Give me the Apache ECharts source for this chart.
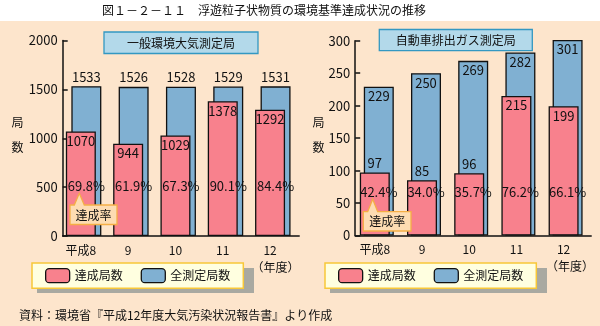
<!DOCTYPE html>
<html><head><meta charset="utf-8">
<script src="https://cdn.jsdelivr.net/npm/echarts@6/dist/echarts.min.js"></script>
<style>html,body{margin:0;padding:0;background:#FDE5CC;}#c{width:600px;height:326px;}</style>
</head><body><div id="c"></div>
<script>
const years = ['平成8', '9', '10', '11', '12'];
const generalTotal = [1533, 1526, 1528, 1529, 1531];
const generalAchieved = [1070, 944, 1029, 1378, 1292];
const generalRate = [69.8, 61.9, 67.3, 90.1, 84.4];
const roadTotal = [229, 250, 269, 282, 301];
const roadAchieved = [97, 85, 96, 215, 199];
const roadRate = [42.4, 34.0, 35.7, 76.2, 66.1];
const leftTicks = [0, 500, 1000, 1500, 2000];
const rightTicks = [0, 50, 100, 150, 200, 250, 300];

const FONT = '"Noto Sans CJK JP", "Noto Sans", sans-serif';
const PINK = '#F8818D', BLUE = '#80B0D2', INK = '#111';
const chart = echarts.init(document.getElementById('c'), null, {renderer: 'canvas'});

function grids(left, top, w, h, off) {
  return [{left: left, top: top, width: w, height: h},
          {left: left - off, top: top, width: w, height: h}];
}
function xAxes(gi) {
  return [
    {type: 'category', gridIndex: gi, data: years, boundaryGap: true,
     axisLine: {lineStyle: {color: INK, width: 1.5}},
     axisTick: {inside: true, length: 5, lineStyle: {color: INK, width: 1.5}},
     axisLabel: {show: false}},
    {type: 'category', gridIndex: gi + 1, data: years, boundaryGap: true,
     axisLine: {show: false}, axisTick: {show: false},
     axisLabel: {color: INK, fontSize: 12, fontFamily: FONT, margin: 8}}
  ];
}
function yAxes(gi, ticks) {
  const max = ticks[ticks.length - 1], step = ticks[1] - ticks[0];
  return [
    {type: 'value', gridIndex: gi, min: ticks[0], max: max, interval: step,
     axisLine: {show: true, lineStyle: {color: INK, width: 1.5}},
     axisTick: {show: true, inside: true, length: 5, lineStyle: {color: INK, width: 1.5}},
     splitLine: {show: false},
     axisLabel: {color: INK, fontSize: 13, fontFamily: FONT, margin: 5, formatter: v => String(v)}},
    {type: 'value', gridIndex: gi + 1, min: ticks[0], max: max, interval: step, show: false}
  ];
}
function seriesFor(ax, total, achieved, rate, totalPos, rateDist, pinkPos) {
  const lbl = {color: INK, fontSize: 13, fontFamily: FONT};
  return [
    {type: 'bar', name: '全測定局数', xAxisIndex: ax, yAxisIndex: ax, data: total,
     barWidth: 30, barGap: '-100%', z: 2, silent: true,
     itemStyle: {color: BLUE, borderColor: INK, borderWidth: 1.3},
     label: Object.assign({show: true, position: totalPos, distance: 3}, lbl)},
    {type: 'bar', name: 'rate', xAxisIndex: ax, yAxisIndex: ax, data: rate,
     barWidth: 30, barGap: '-100%', z: 5, silent: true,
     itemStyle: {color: 'rgba(0,0,0,0)'},
     label: Object.assign({show: true, position: 'insideBottom', distance: rateDist,
       formatter: p => rate[p.dataIndex].toFixed(1) + '%'}, lbl)},
    {type: 'bar', name: '達成局数', xAxisIndex: ax + 1, yAxisIndex: ax + 1,
     data: achieved.map((v, i) => ({value: v, label: {position: pinkPos(v, i)}})),
     barWidth: 30, z: 3, silent: true,
     itemStyle: {color: PINK, borderColor: INK, borderWidth: 1.3},
     label: Object.assign({show: true, distance: 3}, lbl)}
  ];
}
function legend(left) {
  return {left: left, top: 263, orient: 'horizontal', data: ['達成局数', '全測定局数'],
    itemWidth: 24, itemHeight: 14, itemGap: 18, padding: [5, 13, 5, 13],
    backgroundColor: '#FFFFE0', borderColor: '#F8C838', borderWidth: 1.5,
    itemStyle: {borderColor: INK, borderWidth: 1.3}, selectedMode: false,
    textStyle: {color: INK, fontSize: 12, fontFamily: FONT}, z: 5};
}
function callout(x, y, w, h, tipX, tipY) {
  return [
    {type: 'polygon', z: 10, shape: {points: [[x, y], [tipX - 5, y], [tipX, tipY], [tipX + 5, y], [x + w, y], [x + w, y + h], [x, y + h]]},
     style: {fill: '#FDDCB2', stroke: '#F5AE45', lineWidth: 1.3}},
    {type: 'text', z: 11, x: x + w / 2, y: y + h / 2 + 0.5,
     style: {text: '達成率', fill: INK, font: '12px ' + FONT, align: 'center', verticalAlign: 'middle'}}
  ];
}
function txt(x, y, s, align, size) {
  return {type: 'text', z: 10, x: x, y: y,
    style: {text: s, fill: INK, font: (size || 12) + 'px ' + FONT, align: align || 'center', verticalAlign: 'middle'}};
}
function box(x, y, w, h, s) {
  return [
    {type: 'rect', z: 10, shape: {x: x, y: y, width: w, height: h},
     style: {fill: '#B3D9EA', stroke: '#3398C2', lineWidth: 1.3}},
    txt(x + w / 2, y + h / 2 + 0.5, s)
  ];
}

const option = {
  backgroundColor: '#FDE5CC',
  animation: false,
  grid: [].concat(grids(62.7, 40.5, 236.5, 195.5, 5.5), grids(355.2, 40.7, 236, 194.8, 4)),
  xAxis: [].concat(xAxes(0), xAxes(2)),
  yAxis: [].concat(yAxes(0, leftTicks), yAxes(2, rightTicks)),
  series: [].concat(
    seriesFor(0, generalTotal, generalAchieved, generalRate, 'top', 43, () => 'insideTop'),
    seriesFor(2, roadTotal, roadAchieved, roadRate, 'insideTop', 37, v => v < 100 ? 'top' : 'insideTop')
  ),
  legend: [legend(32), legend(325)],
  graphic: [].concat(
    [{type: 'rect', z: 0, shape: {x: 0, y: 0, width: 600, height: 21}, style: {fill: '#fff'}},
     txt(102, 10.5, '図１－２－１１　浮遊粒子状物質の環境基準達成状況の推移', 'left'),
     {type: 'rect', z: 0, shape: {x: 37, y: 268, width: 217, height: 25}, style: {fill: '#A9A9A1'}},
     {type: 'rect', z: 0, shape: {x: 330, y: 268, width: 217, height: 25}, style: {fill: '#A9A9A1'}},
     txt(17.5, 122.5, '局'), txt(17.5, 147, '数'),
     txt(318.5, 122, '局'), txt(318.5, 147, '数'),
     txt(275.5, 267, '（年度）'), txt(570, 266.5, '（年度）'),
     txt(19, 315, '資料：環境省『平成12年度大気汚染状況報告書』より作成', 'left')],
    box(104, 32, 154, 21.5, '一般環境大気測定局'),
    box(379.3, 29.5, 153, 21.2, '自動車排出ガス測定局'),
    callout(70, 205, 47, 19.5, 79.3, 193.3),
    callout(363.3, 211.7, 47.7, 19.3, 372.7, 199.3)
  )
};
chart.setOption(option);
</script></body></html>
